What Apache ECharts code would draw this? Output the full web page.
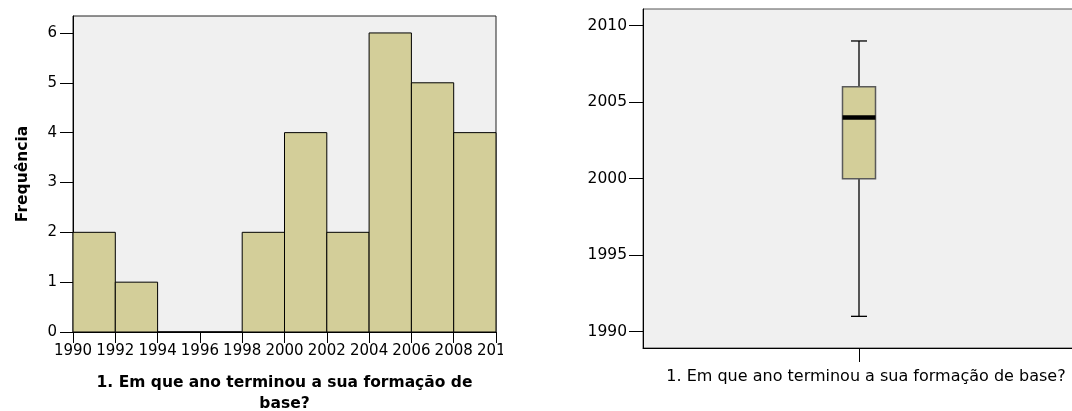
<!DOCTYPE html>
<html>
<head>
<meta charset="utf-8">
<script src="https://cdn.jsdelivr.net/npm/echarts@6/dist/echarts.min.js"></script>
<style>
html,body{margin:0;padding:0;background:#fff;overflow:hidden;width:1072px;height:411px;}
#L{position:absolute;left:0;top:0;width:503px;height:411px;overflow:hidden;}
#Lc{position:absolute;left:0;top:0;width:560px;height:411px;}
#R{position:absolute;left:503px;top:0;width:600px;height:411px;}
</style>
</head>
<body>
<div id="L"><div id="Lc"></div></div>
<div id="R"></div>
<script>
// ---- Data ----
const binStarts = [1990, 1992, 1994, 1996, 1998, 2000, 2002, 2004, 2006, 2008];
const binWidth = 2;
const counts = [2, 1, 0, 0, 2, 4, 2, 6, 5, 4];
const xTicks = [1990, 1992, 1994, 1996, 1998, 2000, 2002, 2004, 2006, 2008, 2010];
const yTicksHist = [0, 1, 2, 3, 4, 5, 6];
const boxCategory = ['1. Em que ano terminou a sua formação de base?'];
// [min, Q1, median, Q3, max]
const boxStats = [1991, 2000, 2004, 2006, 2009];
const yTicksBox = [1990, 1995, 2000, 2005, 2010];
const xTitle = '1. Em que ano terminou a sua formação de\nbase?';
const yTitle = 'Frequência';

const FONT = 'DejaVu Sans';
const FILL = '#d3ce99';
const BG = '#f0f0f0';
const plain = v => String(Math.round(v));

const histData = binStarts.map((s, i) => [s, s + binWidth, counts[i]]);

const left = echarts.init(document.getElementById('Lc'));
left.setOption({
  animation: false,
  grid: {left: 73, top: 16, width: 423, height: 316, outerBoundsMode: 'none', containLabel: false,
         show: true, backgroundColor: BG, borderColor: '#222', borderWidth: 1},
  xAxis: {
    type: 'value', min: 1990, max: 2010, interval: 2,
    name: xTitle, nameLocation: 'middle', nameGap: 40,
    nameTextStyle: {fontFamily: FONT, fontWeight: 'bold', fontSize: 15.5, color: '#000', lineHeight: 21},
    axisLine: {show: true, lineStyle: {color: '#000', width: 1}},
    axisTick: {show: true, length: 11, lineStyle: {color: '#000'}, customValues: xTicks},
    axisLabel: {fontFamily: FONT, fontSize: 15, color: '#000', margin: 12, customValues: xTicks,
                formatter: plain, showMinLabel: true, showMaxLabel: true, hideOverlap: false, interval: 0},
    splitLine: {show: false}
  },
  yAxis: {
    type: 'value', min: 0, max: 6.34,
    name: yTitle, nameLocation: 'middle', nameGap: 42, nameRotate: 90,
    nameTextStyle: {fontFamily: FONT, fontWeight: 'bold', fontSize: 15.5, color: '#000'},
    axisLine: {show: true, lineStyle: {color: '#000', width: 1}},
    axisTick: {show: true, length: 13, lineStyle: {color: '#000'}, customValues: yTicksHist},
    axisLabel: {fontFamily: FONT, fontSize: 15, color: '#000', margin: 16, customValues: yTicksHist,
                formatter: plain, showMinLabel: true, hideOverlap: false},
    splitLine: {show: false}
  },
  series: [{
    type: 'custom',
    encode: {x: [0, 1], y: 2},
    data: histData,
    renderItem: function (params, api) {
      const p0 = api.coord([api.value(0), 0]);
      const p1 = api.coord([api.value(1), api.value(2)]);
      return {
        type: 'rect',
        shape: {x: p0[0], y: p1[1], width: p1[0] - p0[0], height: p0[1] - p1[1]},
        style: {fill: FILL, stroke: '#000', lineWidth: 1}
      };
    }
  }]
});

const right = echarts.init(document.getElementById('R'));
right.setOption({
  animation: false,
  grid: {left: 140, top: 9, width: 432, height: 339, outerBoundsMode: 'none', containLabel: false,
         show: true, backgroundColor: BG, borderColor: '#555', borderWidth: 1},
  xAxis: {
    type: 'category', data: boxCategory, boundaryGap: true,
    axisLine: {show: true, lineStyle: {color: '#000', width: 1}},
    axisTick: {show: true, alignWithLabel: true, length: 14, lineStyle: {color: '#000'}},
    axisLabel: {fontFamily: FONT, fontSize: 16, color: '#000', margin: 21, padding: [0, 0, 0, 14], hideOverlap: false},
    splitLine: {show: false}
  },
  yAxis: {
    type: 'value', min: 1988.93, max: 2011.09,
    axisLine: {show: true, lineStyle: {color: '#000', width: 1}},
    axisTick: {show: true, length: 14, lineStyle: {color: '#000'}, customValues: yTicksBox},
    axisLabel: {fontFamily: FONT, fontSize: 15.5, color: '#000', margin: 16, customValues: yTicksBox,
                formatter: plain, hideOverlap: false},
    splitLine: {show: false}
  },
  series: [{
    type: 'custom',
    data: [[0].concat(boxStats)],
    encode: {x: 0, y: [1, 2, 3, 4, 5]},
    renderItem: function (params, api) {
      const cx = api.coord([api.value(0), 0])[0];
      const yMin = api.coord([0, api.value(1)])[1];
      const yQ1 = api.coord([0, api.value(2)])[1];
      const yMed = api.coord([0, api.value(3)])[1];
      const yQ3 = api.coord([0, api.value(4)])[1];
      const yMax = api.coord([0, api.value(5)])[1];
      const bw = 33, cw = 16;
      const ln = {stroke: '#000', lineWidth: 1.3};
      return {
        type: 'group',
        children: [
          {type: 'line', shape: {x1: cx, y1: yMin, x2: cx, y2: yQ1}, style: ln},
          {type: 'line', shape: {x1: cx, y1: yQ3, x2: cx, y2: yMax}, style: ln},
          {type: 'line', shape: {x1: cx - cw / 2, y1: yMin, x2: cx + cw / 2, y2: yMin}, style: ln},
          {type: 'line', shape: {x1: cx - cw / 2, y1: yMax, x2: cx + cw / 2, y2: yMax}, style: ln},
          {type: 'rect', shape: {x: cx - bw / 2, y: yQ3, width: bw, height: yQ1 - yQ3}, style: {fill: FILL, stroke: '#5a5a5a', lineWidth: 1.5}},
          {type: 'line', shape: {x1: cx - bw / 2, y1: yMed, x2: cx + bw / 2, y2: yMed}, style: {stroke: '#000', lineWidth: 4.5}}
        ]
      };
    }
  }]
});
</script>
</body>
</html>
